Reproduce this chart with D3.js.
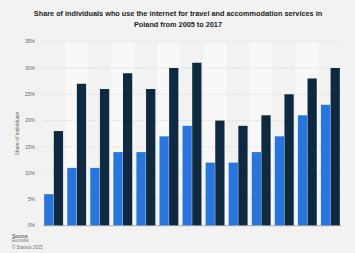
<!DOCTYPE html>
<html><head><meta charset="utf-8">
<script src="https://cdn.jsdelivr.net/npm/d3@7"></script>
<style>
html,body{margin:0;padding:0;background:#f2f2f2;}
svg{display:block;font-family:"Liberation Sans",Arial,sans-serif;}
</style></head>
<body><svg id="c" width="355" height="253"></svg>
<script>
const years = ["2005","2006","2007","2008","2009","2010","2011","2012","2013","2014","2015","2016","2017"];
const seriesNames = ["Individuals","Internet users"];
const individuals = [6,11,11,14,14,17,19,12,12,14,17,21,23];
const internetUsers = [18,27,26,29,26,30,31,20,19,21,25,28,30];
const yTicks = [0,5,10,15,20,25,30,35];
const colors = ["#2876dd","#0f2940"];
const titleLines = ["Share of individuals who use the internet for travel and accommodation services in","Poland from 2005 to 2017"];
const sourceLines = ["Source","Eurostat","© Statista 2025"];

const svg = d3.select("#c");
const W = 355, H = 253;
const m = {left:43, right:14, top:41.7, bottom:27.3};
const x0 = d3.scaleBand().domain(years).range([m.left, W-m.right]).paddingInner(0.18).paddingOuter(0.05);
const x1 = d3.scaleBand().domain(seriesNames).range([0, x0.bandwidth()]).paddingInner(0.04);
const y = d3.scaleLinear().domain([0,35]).range([H-m.bottom, m.top]);

svg.append("rect").attr("width",W).attr("height",H).attr("fill","#f2f2f2");

// alternating column backgrounds
const step = x0.step();
svg.append("g").selectAll("rect").data(years.filter((d,i)=>i%2===1)).join("rect")
  .attr("x", d => x0(d) - step*0.09)
  .attr("width", step)
  .attr("y", y(35)).attr("height", y(0)-y(35))
  .attr("fill","#f8f8f8");

// grid
svg.append("g").selectAll("line").data(yTicks.filter(t=>t>0)).join("line")
  .attr("x1", m.left).attr("x2", W-m.right)
  .attr("y1", d=>y(d)).attr("y2", d=>y(d))
  .attr("stroke","#dcdcdc").attr("stroke-width",0.8).attr("stroke-dasharray","2,1");

// y tick labels
svg.append("g").selectAll("text").data(yTicks).join("text")
  .attr("x", 35).attr("y", d=>y(d)).attr("dy","0.35em")
  .attr("text-anchor","end").attr("font-size",5).attr("fill","#666")
  .text(d=>d+"%");

// y label
svg.append("text").attr("transform",`translate(19,${(y(0)+y(35))/2}) rotate(-90)`)
  .attr("text-anchor","middle").attr("font-size",5).attr("fill","#666")
  .text("Share of individuals");

// bars
const data = years.map((yr,i)=>({yr, vals:[individuals[i], internetUsers[i]]}));
const g = svg.append("g");
data.forEach(d=>{
  d.vals.forEach((v,j)=>{
    g.append("rect")
      .attr("x", x0(d.yr)+x1(seriesNames[j]))
      .attr("width", x1.bandwidth())
      .attr("y", y(v)).attr("height", y(0)-y(v))
      .attr("fill", colors[j]);
  });
});

// baseline
svg.append("line").attr("x1",m.left).attr("x2",W-m.right).attr("y1",y(0)).attr("y2",y(0))
  .attr("stroke","#999").attr("stroke-width",0.8);

// title
svg.append("g").selectAll("text").data(titleLines).join("text")
  .attr("x", 178).attr("y",(d,i)=>16.3+i*10.7)
  .attr("text-anchor","middle").attr("font-size",7.3).attr("font-weight","bold").attr("fill","#222")
  .text(d=>d);

// source
svg.append("g").selectAll("text").data(sourceLines).join("text")
  .attr("x", 12).attr("y",(d,i)=>[237.5,242.3,248.8][i])
  .attr("font-size",(d,i)=>i===0?5:4.5).attr("fill",(d,i)=>i===0?"#333":"#777")
  .text(d=>d);
</script></body></html>
